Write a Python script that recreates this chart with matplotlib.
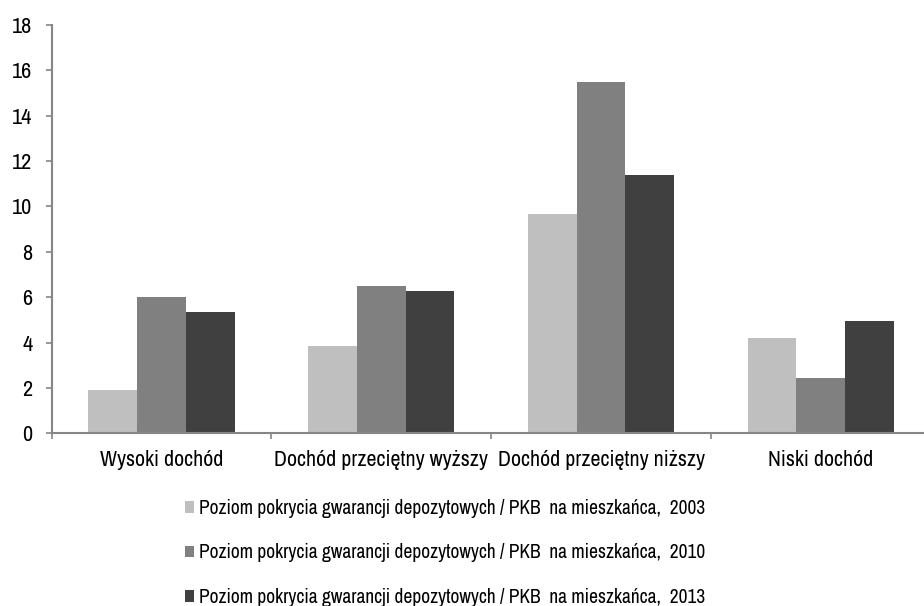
import matplotlib
matplotlib.use("Agg")
import matplotlib.pyplot as plt
import numpy as np

categories = ["Wysoki dochód", "Dochód przeciętny wyższy", "Dochód przeciętny niższy", "Niski dochód"]
series_labels = [
    "Poziom pokrycia gwarancji depozytowych / PKB  na mieszkańca,  2003",
    "Poziom pokrycia gwarancji depozytowych / PKB  na mieszkańca,  2010",
    "Poziom pokrycia gwarancji depozytowych / PKB  na mieszkańca,  2013",
]
v2003 = [1.9, 3.85, 9.66, 4.22]
v2010 = [6.0, 6.48, 15.48, 2.44]
v2013 = [5.35, 6.29, 11.37, 4.97]
colors = ["#BFBFBF", "#808080", "#404040"]
yticks = [0, 2, 4, 6, 8, 10, 12, 14, 16, 18]

plt.rcParams['font.family'] = ['Archivo Narrow', 'Roboto Condensed', 'DejaVu Sans']

fig = plt.figure(figsize=(9.24, 6.06), dpi=100)
ax = fig.add_axes([51.7 / 924, 1 - 433.3 / 606, 878.9 / 924, 408.3 / 606])

x = np.arange(len(categories))
w = 0.222
handles = []
for i, (vals, c, lab) in enumerate(zip([v2003, v2010, v2013], colors, series_labels)):
    b = ax.bar(x + (i - 1) * w, vals, width=w, color=c, label=lab, linewidth=0)
    handles.append(b)

ax.set_xlim(-0.5, 3.5)
ax.set_ylim(0, 18)
ax.set_yticks(yticks)
ax.set_yticklabels([str(t) for t in yticks], fontsize=16)
ax.set_xticks(x)
ax.set_xticklabels(categories, fontsize=15.8)
ax.set_xticks([-0.5, 0.5, 1.5, 2.5], minor=True)

for s in ["top", "right"]:
    ax.spines[s].set_visible(False)
for s in ["left", "bottom"]:
    ax.spines[s].set_color("#868686")
    ax.spines[s].set_linewidth(1.5)

ax.tick_params(axis='x', which='major', length=0, pad=12, colors='black')
ax.tick_params(axis='x', which='minor', length=4, width=1.2, color="#868686", direction='out')
ax.tick_params(axis='y', length=4, width=1.2, color="#868686", pad=10, labelcolor='black')

fig.legend(handles=handles, labels=series_labels, loc='center',
           bbox_to_anchor=(445 / 924, 1 - 553 / 606), ncol=1, frameon=False,
           fontsize=14, handlelength=0.5, handleheight=0.55, handletextpad=0.25,
           labelspacing=1.3, borderpad=0)

fig.savefig("out.png", dpi=100)
